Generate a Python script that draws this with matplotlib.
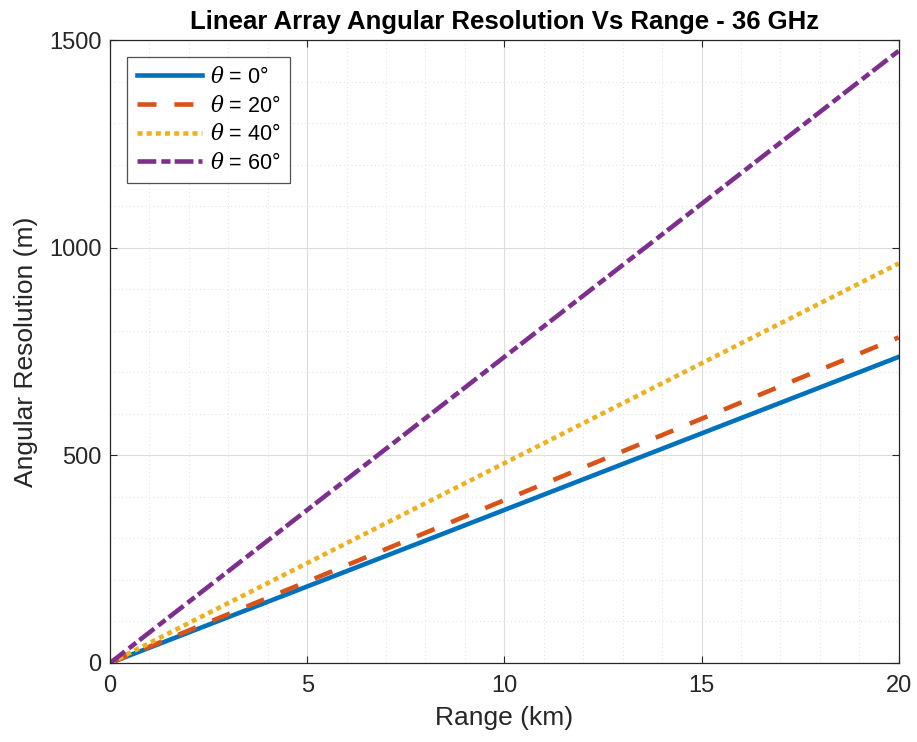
import matplotlib
matplotlib.use("Agg")
import matplotlib.pyplot as plt
from matplotlib.ticker import MultipleLocator

plt.rcParams['font.family'] = ['Liberation Sans', 'DejaVu Sans']
plt.rcParams['mathtext.fontset'] = 'dejavuserif'

range_km = [0, 20]
res_0 = [0, 737]
res_20 = [0, 784]
res_40 = [0, 962]
res_60 = [0, 1474]
labels = [r'$\theta$ = 0°', r'$\theta$ = 20°', r'$\theta$ = 40°', r'$\theta$ = 60°']

fig = plt.figure(figsize=(9.17, 7.42), dpi=100)
ax = fig.add_axes([0.12, 0.1065, 0.860, 0.8395])

lw = 3.3
ax.plot(range_km, res_0, color='#0072BD', lw=lw, ls='-', label=labels[0])
ax.plot(range_km, res_20, color='#D95319', lw=lw, ls=(0, (4.15, 3.9)), label=labels[1])
ax.plot(range_km, res_40, color='#EDB120', lw=lw, ls=(0, (1.1, 0.9)), label=labels[2])
ax.plot(range_km, res_60, color='#7E2F8E', lw=lw, ls=(0, (4.1, 1.1, 2.0, 0.9)), label=labels[3])

ax.set_xlim(0, 20)
ax.set_ylim(0, 1500)
ax.xaxis.set_major_locator(MultipleLocator(5))
ax.xaxis.set_minor_locator(MultipleLocator(1))
ax.yaxis.set_major_locator(MultipleLocator(500))
ax.yaxis.set_minor_locator(MultipleLocator(100))
ax.grid(which='major', color='#dcdcdc', lw=0.8)
ax.grid(which='minor', color='#e0e0e0', lw=0.7, ls=(0, (1, 3)))
ax.set_axisbelow(True)
ax.tick_params(which='both', direction='in', top=True, right=True, labelsize=17, colors='#262626', length=5)
ax.tick_params(which='minor', length=0)
ax.tick_params(axis='x', pad=9)
ax.tick_params(axis='y', pad=6)
for s in ax.spines.values():
    s.set_color('#262626')
    s.set_linewidth(0.9)

ax.set_xlabel('Range (km)', fontsize=19, color='#262626', labelpad=6)
ax.set_ylabel('Angular Resolution (m)', fontsize=19, color='#262626', labelpad=8)
ax.set_title('Linear Array Angular Resolution Vs Range - 36 GHz', fontsize=18.5, fontweight='bold', pad=8)

leg = ax.legend(loc='upper left', fontsize=15.5, frameon=True, fancybox=False, edgecolor='#262626',
                handlelength=3.0, handletextpad=0.4, borderaxespad=0.8, labelspacing=0.35, borderpad=0.45)
leg.get_frame().set_linewidth(0.9)

fig.savefig('out.png', dpi=100)
